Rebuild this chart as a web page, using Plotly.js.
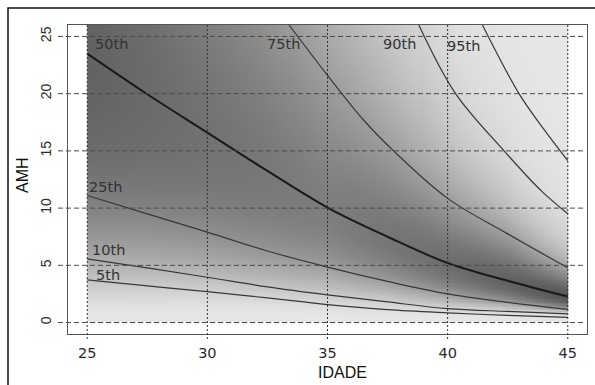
<!DOCTYPE html>
<html>
<head>
<meta charset="utf-8">
<script src="https://cdn.plot.ly/plotly-3.0.1.min.js"></script>
<style>html,body{margin:0;padding:0;background:#fff;}#chart{width:595px;height:385px;}</style>
</head>
<body>
<div id="chart"></div>
<script>
// ---- data ----
const AGE   = [25, 27.5, 30, 32.5, 35, 37.5, 40, 42.5, 45];
const P5    = [3.73, 3.2, 2.71, 2.15, 1.57, 1.13, 0.85, 0.62, 0.46];
const P10   = [5.56, 4.78, 3.96, 3.12, 2.42, 1.8, 1.22, 0.97, 0.76];
const P25   = [11.1, 9.5, 7.9, 6.25, 4.85, 3.6, 2.5, 1.77, 1.15];
const P50   = [23.5, 19.95, 16.6, 13.25, 10.05, 7.5, 5.2, 3.65, 2.27];
const AGE75 = [33.4, 35, 36.5, 37.75, 40, 42.5, 45];
const P75   = [26, 21.6, 17.7, 15.0, 10.85, 7.75, 4.78];
const AGE90 = [38.8, 40.33, 42.35, 43.9, 45];
const P90   = [26, 20, 15.0, 11.5, 9.5];
const AGE95 = [41.45, 42.97, 44, 45];
const P95   = [26, 20, 16.9, 14.15];
const LABELS = ["5th", "10th", "25th", "50th", "75th", "90th", "95th"];
const ZQ = [-1.645, -1.2816, -0.6745, 0, 0.6745, 1.2816, 1.645];
const XTICKS = [25, 30, 35, 40, 45];
const YTICKS = [0, 5, 10, 15, 20, 25];
// shading tone, by age
const SHADE_AGE = [25, 30, 35, 40, 45];
const SHADE_MID = [98, 114, 126, 110, 86];

const curves = [
  {x: AGE, y: P5}, {x: AGE, y: P10}, {x: AGE, y: P25}, {x: AGE, y: P50},
  {x: AGE75, y: P75}, {x: AGE90, y: P90}, {x: AGE95, y: P95}
];

// ---- background shading derived from the percentile curves ----
function interpLog(xs, ys, x) {
  if (x < xs[0] - 1e-9 || x > xs[xs.length - 1] + 1e-9) return null;
  for (let i = 0; i < xs.length - 1; i++) {
    if (x <= xs[i + 1] + 1e-9) {
      const f = (x - xs[i]) / (xs[i + 1] - xs[i]);
      return Math.log(ys[i]) * (1 - f) + Math.log(ys[i + 1]) * f;
    }
  }
  return Math.log(ys[ys.length - 1]);
}
function interpLin(xs, ys, x) {
  for (let i = 0; i < xs.length - 1; i++) {
    if (x <= xs[i + 1]) { const f = (x - xs[i]) / (xs[i + 1] - xs[i]); return ys[i] * (1 - f) + ys[i + 1] * f; }
  }
  return ys[ys.length - 1];
}
const nx = 160, ny = 208;
const xe = [], ye = [];
for (let i = 0; i <= nx; i++) xe.push(25 + 20 * i / nx);
for (let j = 0; j <= ny; j++) ye.push(26 * j / ny);
const zg = [];
for (let j = 0; j < ny; j++) {
  const yc = (ye[j] + ye[j + 1]) / 2, ly = Math.log(yc);
  const row = [];
  for (let i = 0; i < nx; i++) {
    const xc = (xe[i] + xe[i + 1]) / 2;
    const pts = [];
    curves.forEach((c, k) => { const v = interpLog(c.x, c.y, xc); if (v !== null) pts.push([v, ZQ[k]]); });
    let z;
    const n = pts.length;
    if (ly <= pts[0][0]) {
      const s = (pts[1][1] - pts[0][1]) / (pts[1][0] - pts[0][0]);
      z = pts[0][1] + s * (ly - pts[0][0]);
    } else if (ly >= pts[n - 1][0]) {
      const s = (pts[n - 1][1] - pts[n - 2][1]) / (pts[n - 1][0] - pts[n - 2][0]);
      z = pts[n - 1][1] + s * (ly - pts[n - 1][0]);
    } else {
      for (let k = 0; k < n - 1; k++) {
        if (ly <= pts[k + 1][0]) {
          const f = (ly - pts[k][0]) / (pts[k + 1][0] - pts[k][0]);
          z = pts[k][1] * (1 - f) + pts[k + 1][1] * f; break;
        }
      }
    }
    const sc = 1 - 0.45 * (xc - 25) / 20;
    const t = Math.abs(z) / sc;
    const c = interpLin(SHADE_AGE, SHADE_MID, xc);
    row.push(230 - (230 - c) * Math.exp(-t * t / 2));
  }
  zg.push(row);
}

const traces = [{
  type: 'heatmap', x: xe, y: ye, z: zg, zmin: 0, zmax: 255,
  colorscale: [[0, 'rgb(0,0,0)'], [1, 'rgb(255,255,255)']],
  showscale: false, hoverinfo: 'skip', zsmooth: false
}];
curves.forEach((c, k) => {
  traces.push({
    type: 'scatter', mode: 'lines', x: c.x, y: c.y, name: LABELS[k],
    line: {color: k === 3 ? '#1a1a1a' : '#383838', width: k === 3 ? 2 : 1.2, shape: 'spline', smoothing: 1},
    hoverinfo: 'skip', showlegend: false
  });
});

// label positions (data coords) for each curve
const LABX = [25.87, 25.87, 25.76, 26.01, 33.17, 38.0, 40.68];
const LABY = [4.16, 6.34, 11.85, 24.34, 24.34, 24.34, 24.2];

const px = p => (p - 68) / 519, py = p => (334 - p) / 309;
const shapes = [];
XTICKS.forEach(v => shapes.push({type: 'line', xref: 'x', yref: 'paper', x0: v, x1: v, y0: 1, y1: py(339),
  line: {color: '#333', width: 1, dash: '2px,2px'}, layer: 'above'}));
YTICKS.forEach(v => shapes.push({type: 'line', xref: 'paper', yref: 'y', x0: px(58), x1: px(584), y0: v, y1: v,
  line: {color: '#4a4a4a', width: 1, dash: '5px,3px'}, layer: 'above'}));
shapes.push({type: 'rect', xref: 'paper', yref: 'paper', x0: px(8), x1: px(600), y0: py(392), y1: py(8),
  line: {color: '#111', width: 1.5}, fillcolor: 'rgba(0,0,0,0)', layer: 'above'});

const annotations = LABELS.map((t, k) => ({
  x: LABX[k], y: LABY[k], xref: 'x', yref: 'y', text: t, showarrow: false,
  font: {family: 'DejaVu Sans', size: 14.5, color: '#333'}, xanchor: 'center', yanchor: 'middle'
}));
annotations.push({x: px(342.5), y: py(372), xref: 'paper', yref: 'paper', text: 'IDADE', showarrow: false,
  font: {family: 'Liberation Sans', size: 16, color: '#111'}, xanchor: 'center', yanchor: 'middle'});
annotations.push({x: px(22), y: py(175), xref: 'paper', yref: 'paper', text: 'AMH', showarrow: false, textangle: -90,
  font: {family: 'Liberation Sans', size: 16, color: '#111'}, xanchor: 'center', yanchor: 'middle'});

const layout = {
  width: 595, height: 385,
  margin: {l: 68, r: 8, t: 25, b: 51},
  paper_bgcolor: '#fff', plot_bgcolor: '#fff',
  xaxis: {range: [24.2, 45.8], tickvals: XTICKS, ticktext: XTICKS.map(String), ticks: '', showgrid: false, zeroline: false,
    showline: true, mirror: true, linecolor: '#555', linewidth: 1,
    tickfont: {family: 'DejaVu Sans', size: 14.5, color: '#2a2a2a'}, ticklabelstandoff: 6},
  yaxis: {range: [-1, 26], tickvals: YTICKS, ticktext: YTICKS.map(String), ticks: '', showgrid: false, zeroline: false,
    showline: true, mirror: true, linecolor: '#555', linewidth: 1, tickangle: -90,
    tickfont: {family: 'Liberation Sans', size: 14, color: '#2a2a2a'}, ticklabelstandoff: 10},
  shapes: shapes, annotations: annotations, showlegend: false
};
Plotly.newPlot('chart', traces, layout, {displayModeBar: false, staticPlot: true});
</script>
</body>
</html>
